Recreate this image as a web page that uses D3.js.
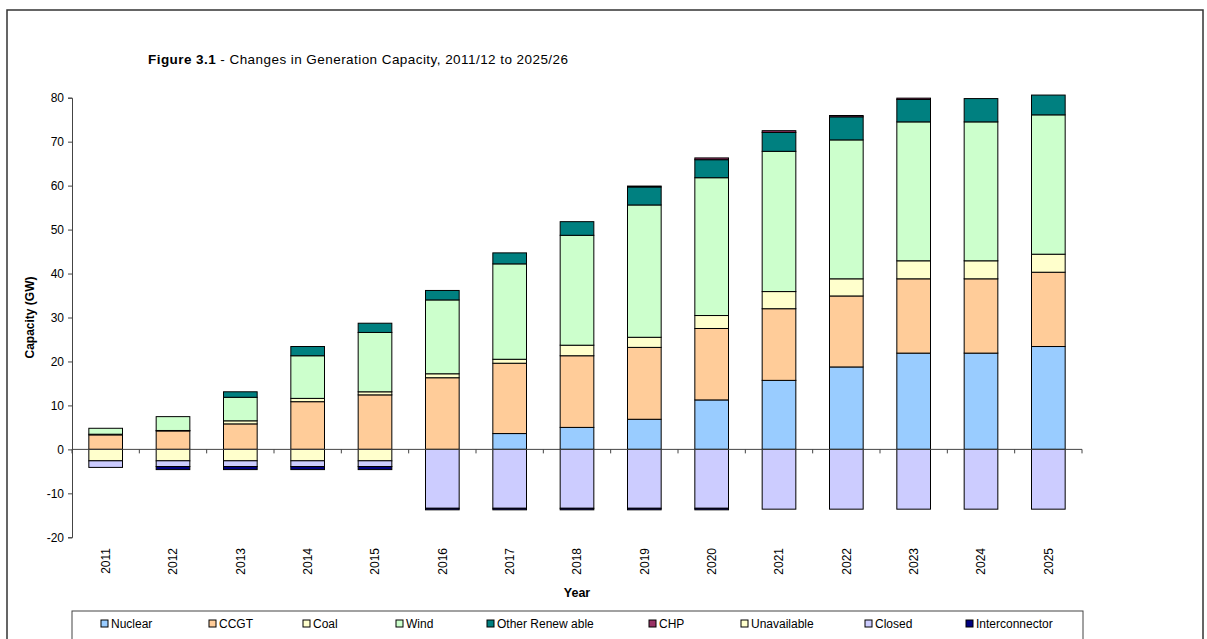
<!DOCTYPE html>
<html>
<head>
<meta charset="utf-8">
<script src="https://cdn.jsdelivr.net/npm/d3@7/dist/d3.min.js"></script>
<style>
  body { margin: 0; background: #fff; }
  svg { display: block; font-family: 'Liberation Sans', Arial, sans-serif; }
</style>
</head>
<body>
<div id="chart"></div>
<script>
// data (GW, per year)
const years = ['2011', '2012', '2013', '2014', '2015', '2016', '2017', '2018', '2019', '2020', '2021', '2022', '2023', '2024', '2025']
const nuclear = [0, 0, 0, 0, 0, 0, 3.6, 5.0, 6.85, 11.25, 15.7, 18.75, 21.9, 21.9, 23.4]
const ccgt = [3.3, 4.2, 5.8, 10.85, 12.4, 16.3, 16.0, 16.3, 16.35, 16.25, 16.3, 16.15, 16.9, 16.9, 16.9]
const coal = [0.15, 0.1, 0.7, 0.75, 0.7, 0.9, 0.9, 2.4, 2.3, 2.95, 3.9, 3.9, 4.1, 4.1, 4.1]
const wind = [1.35, 3.15, 5.35, 9.7, 13.5, 16.8, 21.7, 25.0, 30.1, 31.35, 31.9, 31.6, 31.6, 31.6, 31.7]
const otherRenewable = [0, 0, 1.25, 2.1, 2.1, 2.15, 2.5, 3.1, 4.1, 4.1, 4.3, 5.25, 5.1, 5.3, 4.5]
const chp = [0, 0, 0, 0, 0, 0, 0, 0, 0.2, 0.4, 0.4, 0.3, 0.3, 0, 0]
const unavailable = [-2.6, -2.6, -2.6, -2.6, -2.6, 0, 0, 0, 0, 0, 0, 0, 0, 0, 0]
const closed = [-1.5, -1.3, -1.3, -1.3, -1.3, -13.4, -13.4, -13.4, -13.4, -13.4, -13.6, -13.6, -13.6, -13.6, -13.6]
const interconnector = [0, -0.7, -0.7, -0.7, -0.7, -0.35, -0.35, -0.35, -0.35, -0.35, 0, 0, 0, 0, 0]

const seriesNames = ['Nuclear', 'CCGT', 'Coal', 'Wind', 'Other Renew able', 'CHP', 'Unavailable', 'Closed', 'Interconnector']
const seriesValues = [nuclear, ccgt, coal, wind, otherRenewable, chp, unavailable, closed, interconnector]
const seriesColors = ['#99CCFF', '#FFCC99', '#FFFFCC', '#CCFFCC', '#008080', '#993366', '#FFFFCC', '#CCCCFF', '#000080']
const yTicks = [-20, -10, 0, 10, 20, 30, 40, 50, 60, 70, 80]

const WIDTH = 1207
const HEIGHT = 639
const PLOT = { left: 72, right: 1082, top: 97.7, bottom: 537.3 }
const AXIS_COLOR = '#444'

const svg = d3.select('#chart')
  .append('svg')
  .attr('width', WIDTH)
  .attr('height', HEIGHT)

// outer frame
svg.append('rect')
  .attr('x', 7).attr('y', 10)
  .attr('width', 1196).attr('height', 660)
  .attr('fill', 'none')
  .attr('stroke', '#333')
  .attr('stroke-width', 1.5)

// title
const title = svg.append('text')
  .attr('x', 148).attr('y', 64)
  .attr('font-size', 13.5)
  .attr('textLength', 420)
  .attr('lengthAdjust', 'spacing')
  .attr('fill', '#000')
title.append('tspan').attr('font-weight', 'bold').text('Figure 3.1')
title.append('tspan').text(' - Changes in Generation Capacity, 2011/12 to 2025/26')

const rows = years.map((yr, i) => {
  const row = { year: yr }
  seriesNames.forEach((name, k) => { row[name] = seriesValues[k][i] })
  return row
})

const stacked = d3.stack()
  .keys(seriesNames)
  .offset(d3.stackOffsetDiverging)(rows)

const x = d3.scaleBand()
  .domain(years)
  .range([PLOT.left, PLOT.right])
  .paddingInner(0.5)
  .paddingOuter(0.25)

const y = d3.scaleLinear()
  .domain([-20, 80])
  .range([PLOT.bottom, PLOT.top])

// bars
svg.append('g')
  .selectAll('g')
  .data(stacked)
  .enter()
  .append('g')
  .attr('fill', (d, i) => seriesColors[i])
  .selectAll('rect')
  .data(d => d.filter(p => p[1] !== p[0]))
  .enter()
  .append('rect')
  .attr('x', d => x(d.data.year))
  .attr('width', x.bandwidth())
  .attr('y', d => y(Math.max(d[0], d[1])))
  .attr('height', d => Math.abs(y(d[0]) - y(d[1])))
  .attr('stroke', '#000')
  .attr('stroke-width', 1)

// y axis (plain hyphen for negatives, like the original)
const yAxis = svg.append('g')
  .attr('transform', 'translate(' + PLOT.left + ',0)')
  .call(d3.axisLeft(y).tickValues(yTicks).tickFormat(d => String(d)).tickSize(4).tickPadding(4))
yAxis.selectAll('path, line').attr('stroke', AXIS_COLOR)
yAxis.selectAll('text').attr('font-size', 12).attr('font-family', 'Liberation Sans, Arial, sans-serif').attr('fill', '#000')

// x axis on the zero line, ticks between categories
const xAxisG = svg.append('g')
xAxisG.append('line')
  .attr('x1', PLOT.left).attr('x2', PLOT.right)
  .attr('y1', y(0)).attr('y2', y(0))
  .attr('stroke', AXIS_COLOR)
xAxisG.selectAll('.xtick')
  .data(d3.range(years.length + 1))
  .enter()
  .append('line')
  .attr('x1', i => PLOT.left + i * x.step())
  .attr('x2', i => PLOT.left + i * x.step())
  .attr('y1', y(0))
  .attr('y2', y(0) + 4)
  .attr('stroke', AXIS_COLOR)

svg.append('g')
  .selectAll('text')
  .data(years)
  .enter()
  .append('text')
  .attr('transform', d => 'translate(' + (x(d) + x.bandwidth() / 2) + ',548) rotate(-90)')
  .attr('text-anchor', 'end')
  .attr('dy', '0.35em')
  .attr('font-size', 12)
  .text(d => d)

// axis titles
svg.append('text')
  .attr('transform', 'translate(34,' + ((PLOT.top + PLOT.bottom) / 2) + ') rotate(-90)')
  .attr('text-anchor', 'middle')
  .attr('font-size', 12)
  .attr('font-weight', 'bold')
  .text('Capacity (GW)')

svg.append('text')
  .attr('x', (PLOT.left + PLOT.right) / 2)
  .attr('y', 597)
  .attr('text-anchor', 'middle')
  .attr('font-size', 12.5)
  .attr('font-weight', 'bold')
  .text('Year')

// legend
const legendX = [101, 209, 303, 396, 487, 649, 741, 865, 966]
const legend = svg.append('g')
legend.append('rect')
  .attr('x', PLOT.left).attr('y', 611)
  .attr('width', 1011).attr('height', 40)
  .attr('fill', '#fff')
  .attr('stroke', AXIS_COLOR)

const items = legend.selectAll('g.item')
  .data(seriesNames)
  .enter()
  .append('g')
  .attr('transform', (d, i) => 'translate(' + legendX[i] + ',0)')
items.append('rect')
  .attr('x', 0).attr('y', 620)
  .attr('width', 7).attr('height', 7)
  .attr('fill', (d, i) => seriesColors[i])
  .attr('stroke', '#000')
items.append('text')
  .attr('x', 10).attr('y', 628)
  .attr('font-size', 12)
  .text(d => d)
</script>
</body>
</html>
